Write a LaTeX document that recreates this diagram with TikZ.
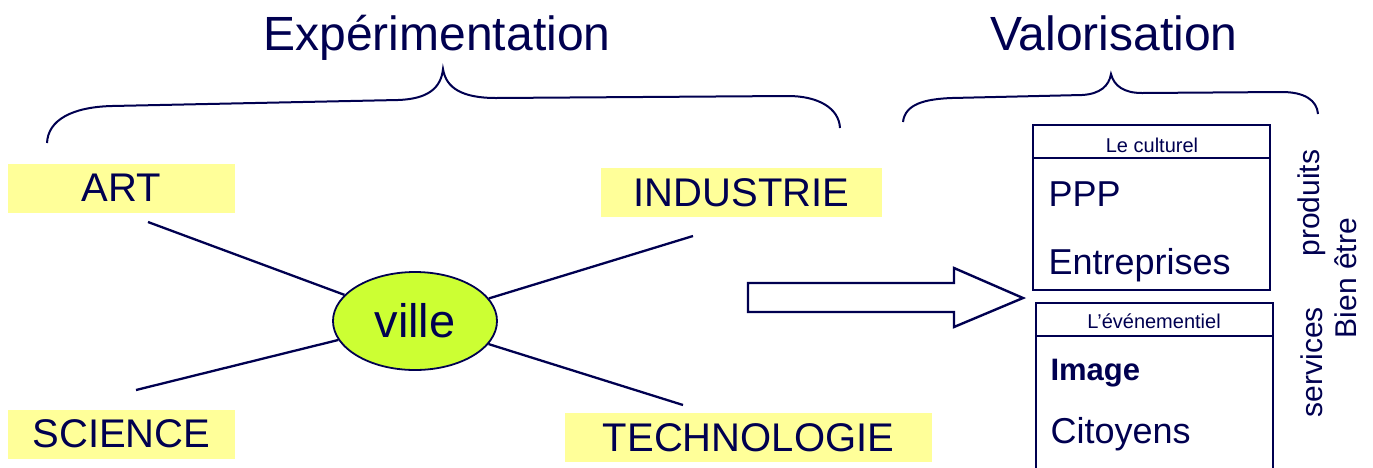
\documentclass[tikz,border=0pt]{standalone}
\usepackage{fontspec}
\usetikzlibrary{shapes.geometric}
\setmainfont{Liberation Sans}
\definecolor{navy}{RGB}{0,0,80}
\definecolor{paleyellow}{RGB}{255,255,153}
\definecolor{lime}{RGB}{204,255,51}
\tikzset{
  heading/.style={text=navy, font=\fontsize{48}{50}\selectfont},
  themebox/.style={fill=paleyellow, text=navy, font=\fontsize{40}{44}\selectfont,
    minimum height=49, inner sep=0},
  link/.style={navy, line width=2.3},
  brace/.style={navy, line width=2},
  panel/.style={draw=navy, line width=2.2, minimum width=237, inner sep=0},
  paneltitle/.style={text=navy, font=\fontsize{20}{22}\selectfont, anchor=base},
  entry/.style={text=navy, font=\fontsize{36}{38}\selectfont, anchor=base west},
  sidetext/.style={text=navy, font=\fontsize{30}{32}\selectfont, rotate=90}
}
\begin{document}
\begin{tikzpicture}[x=1pt,y=-1pt]
\useasboundingbox (0,0) rectangle (1373,467);
\clip (0,0) rectangle (1373,467);

% titres et accolades
\node[heading, anchor=base] (expe) at (437,50) {Expérimentation};
\node[heading, anchor=base] (valo) at (1114,50) {Valorisation};
\draw[brace] (47,143) .. controls (48,120) and (72,107) .. (112,106)
  -- (398,100) .. controls (428,99) and (441,88) .. (443,69)
  .. controls (446,88) and (462,98) .. (496,98)
  -- (788,96) .. controls (818,96) and (839,108) .. (840,128);
\draw[brace] (903,122) .. controls (905,104) and (925,99) .. (952,98)
  -- (1082,95) .. controls (1100,94) and (1109,86) .. (1111,74)
  .. controls (1114,86) and (1124,93) .. (1142,93)
  -- (1282,92) .. controls (1304,92) and (1317,100) .. (1318,114);

% la ville et ses quatre domaines
\node[themebox, minimum width=227] (art) at (121.5,188) {ART};
\node[themebox, minimum width=281] (industrie) at (741.5,192.5) {INDUSTRIE};
\node[themebox, minimum width=227] (science) at (121.5,434) {SCIENCE};
\node[themebox, minimum width=367] (techno) at (748.5,437.5) {TECHNOLOGIE};
\node[ellipse, draw=navy, line width=1.8, fill=lime, minimum width=164,
  minimum height=98, inner sep=0, text=navy,
  font=\fontsize{47}{50}\selectfont] (ville) at (415,321) {ville};

\coordinate (artEnd) at (148,222);
\coordinate (indEnd) at (693,236);
\coordinate (sciEnd) at (136,390);
\coordinate (techEnd) at (683,405);
\foreach \e in {artEnd,indEnd,sciEnd,techEnd}
  \draw[link] (\e) -- (ville);

% grosse fleche
\draw[navy, line width=2.4, line join=miter] (748,283) -- (954,283) -- (954,268)
  -- (1023,298) -- (954,327) -- (954,312) -- (748,312) -- cycle;

% les deux cadres
\node[panel, minimum height=165] (culturel) at (1151.5,207.5) {};
\draw[navy, line width=2.2] ([yshift=-34]culturel.north west) -- ([yshift=-34]culturel.north east);
\node[paneltitle] (cultTitle) at (1152,152) {Le culturel};
\node[entry] (ppp) at (1045,206) {PPP};
\node[entry] (entreprises) at (1045,274) {Entreprises};

\node[panel, minimum height=200] (evenement) at (1154.5,403) {};
\draw[navy, line width=2.2] ([yshift=-34]evenement.north west) -- ([yshift=-34]evenement.north east);
\node[paneltitle] (evTitle) at (1154,328) {L’événementiel};
\node[entry, font=\bfseries\fontsize{31}{34}\selectfont] (image) at (1047,380) {Image};
\node[entry] (citoyens) at (1047,443) {Citoyens};

% textes verticaux
\node[sidetext] (produits) at (1312,203) {produits};
\node[sidetext] (services) at (1312,362) {services};
\node[sidetext] (bien) at (1346,278) {Bien être};
\end{tikzpicture}
\end{document}
